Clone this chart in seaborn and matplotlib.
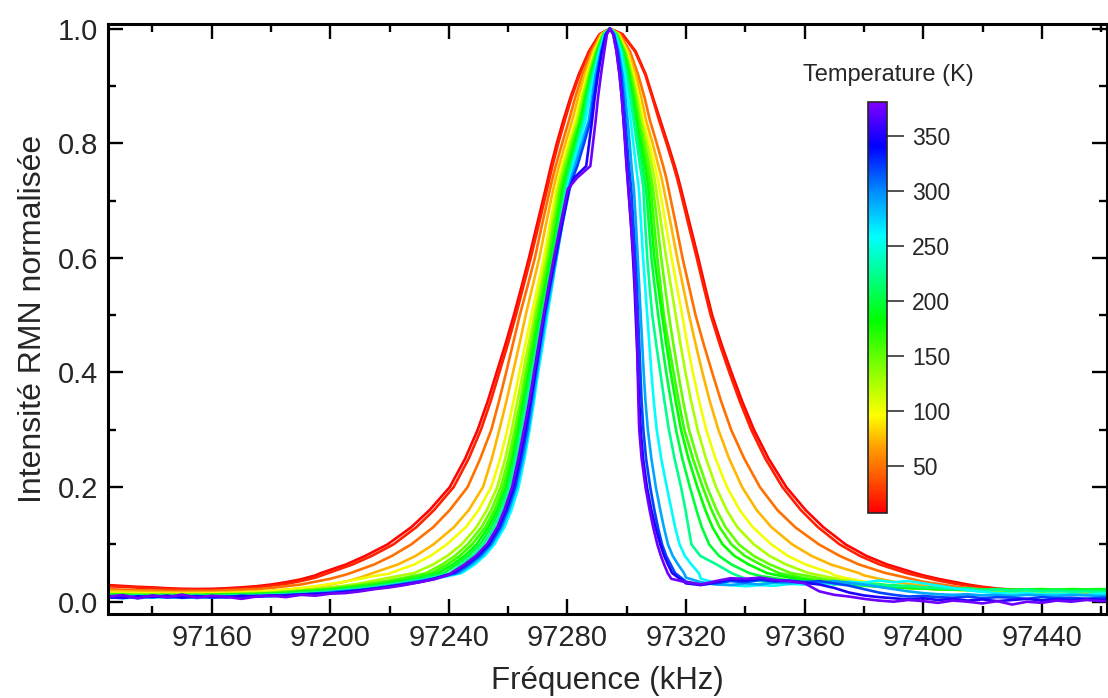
import numpy as np
import pandas as pd
import matplotlib
matplotlib.use("Agg")
import matplotlib.pyplot as plt
import seaborn as sns
from matplotlib.colors import LinearSegmentedColormap, Normalize
from matplotlib.ticker import MultipleLocator, StrMethodFormatter

# --- data ------------------------------------------------------------------
temps = [10, 20, 50, 75, 100, 125, 150, 165, 180, 200, 225, 260, 290, 320, 350, 375]

peak_khz = 97294.3
# intensity levels at which the flank positions were read (peak = 1.0)
levels = [0.99, 0.96, 0.92, 0.88, 0.84, 0.80, 0.76, 0.74, 0.72, 0.66, 0.60, 0.55, 0.50,
          0.45, 0.40, 0.35, 0.30, 0.25, 0.20, 0.16, 0.13, 0.10, 0.08, 0.065, 0.05]

# distance (kHz) below the peak frequency where each curve crosses each level
left_offsets = [
    [3.5, 7.1, 10.5, 13.3, 15.7, 17.9, 19.9, 20.8, 21.7, 24.5, 27.3, 29.8, 32.4, 35.2, 38.2, 41.2, 44.6, 48.8, 54.0, 60.8, 67.0, 75.0, 82.5, 89.0, 97.5],
    [3.4, 7.0, 10.2, 12.9, 15.2, 17.4, 19.4, 20.3, 21.2, 23.9, 26.7, 29.2, 31.7, 34.4, 37.3, 40.2, 43.5, 47.6, 52.7, 59.3, 65.3, 73.0, 80.3, 86.8, 95.0],
    [3.1, 6.2, 9.2, 11.7, 13.8, 16.1, 18.3, 19.3, 20.2, 22.8, 25.3, 27.8, 30.4, 32.7, 35.0, 37.4, 40.0, 43.7, 48.0, 54.0, 59.6, 67.0, 73.5, 79.5, 87.5],
    [2.8, 5.7, 8.5, 10.7, 12.7, 15.0, 17.2, 18.2, 19.1, 21.5, 23.8, 26.1, 28.4, 30.5, 32.7, 34.9, 37.3, 39.8, 42.8, 47.6, 52.6, 59.5, 65.5, 71.5, 80.0],
    [2.6, 5.3, 7.8, 9.8, 11.6, 14.0, 16.2, 17.2, 18.1, 20.2, 22.3, 24.4, 26.5, 28.5, 30.5, 32.5, 34.6, 37.0, 40.0, 44.3, 48.6, 55.0, 60.5, 66.0, 74.0],
    [2.4, 4.9, 7.3, 9.3, 11.0, 13.4, 15.6, 16.6, 17.5, 19.5, 21.5, 23.5, 25.5, 27.4, 29.3, 31.2, 33.1, 35.3, 38.0, 41.5, 45.0, 50.0, 54.8, 59.6, 66.0],
    [2.3, 4.6, 6.9, 8.8, 10.4, 12.8, 15.0, 16.0, 16.9, 18.9, 20.9, 22.8, 24.8, 26.6, 28.4, 30.2, 32.1, 34.2, 36.8, 40.0, 43.3, 48.0, 52.3, 56.6, 62.0],
    [2.2, 4.4, 6.6, 8.4, 10.0, 12.3, 14.5, 15.5, 16.4, 18.4, 20.4, 22.3, 24.2, 26.0, 27.8, 29.6, 31.4, 33.4, 35.9, 38.9, 42.0, 46.5, 50.6, 54.8, 60.0],
    [2.1, 4.3, 6.4, 8.2, 9.8, 11.9, 14.0, 15.0, 15.9, 17.9, 19.9, 21.8, 23.7, 25.5, 27.3, 29.1, 30.9, 32.8, 35.1, 38.0, 41.0, 45.0, 49.0, 53.0, 58.0],
    [2.0, 4.0, 6.1, 7.8, 9.3, 11.4, 13.5, 14.5, 15.4, 17.4, 19.4, 21.3, 23.2, 25.0, 26.8, 28.6, 30.4, 32.3, 34.5, 37.3, 40.0, 43.8, 47.7, 51.6, 56.0],
    [1.9, 3.8, 5.7, 7.4, 8.8, 10.9, 13.0, 14.0, 14.9, 16.9, 18.8, 20.7, 22.6, 24.4, 26.2, 28.0, 29.8, 31.7, 33.8, 36.4, 39.0, 42.6, 46.3, 50.0, 54.0],
    [1.7, 3.5, 5.3, 6.9, 8.2, 10.4, 12.5, 13.5, 14.4, 16.2, 18.0, 19.5, 21.1, 22.6, 24.2, 25.6, 27.1, 28.8, 30.8, 33.2, 35.6, 39.0, 42.3, 45.6, 50.0],
    [1.5, 3.1, 4.8, 6.0, 7.1, 9.5, 11.8, 13.0, 14.0, 16.0, 18.0, 19.8, 21.6, 23.1, 24.6, 26.0, 27.5, 29.3, 31.5, 34.0, 36.4, 39.8, 43.2, 46.7, 51.0],
    [1.4, 2.8, 4.3, 5.5, 6.5, 8.7, 11.0, 12.5, 13.6, 16.0, 18.3, 20.2, 22.0, 23.5, 25.0, 26.5, 28.0, 29.9, 32.0, 34.6, 37.0, 40.4, 44.0, 47.7, 52.0],
    [1.3, 2.7, 4.0, 5.1, 6.0, 7.0, 8.0, 12.0, 13.8, 16.2, 18.5, 20.4, 22.2, 23.7, 25.2, 26.8, 28.5, 30.4, 32.5, 35.1, 37.6, 41.0, 44.8, 48.6, 53.0],
    [1.0, 1.9, 3.0, 4.0, 4.8, 5.7, 6.6, 11.0, 14.2, 16.6, 18.9, 20.7, 22.4, 24.0, 25.6, 27.2, 29.0, 30.9, 33.0, 35.6, 38.0, 41.5, 45.2, 49.0, 53.5],
]

# distance (kHz) above the peak frequency
right_offsets = [
    [4.3, 8.7, 12.1, 14.5, 17.0, 19.5, 21.9, 23.0, 24.0, 26.9, 29.8, 32.1, 34.5, 37.6, 41.0, 44.6, 48.6, 53.5, 59.5, 66.0, 72.0, 79.5, 86.5, 93.5, 103.0],
    [4.2, 8.5, 11.9, 14.3, 16.6, 19.1, 21.5, 22.6, 23.6, 26.4, 29.3, 31.6, 34.0, 37.0, 40.3, 43.8, 47.7, 52.4, 58.2, 64.4, 70.2, 77.5, 84.3, 91.0, 100.0],
    [3.4, 6.8, 9.5, 11.7, 13.5, 15.8, 18.0, 19.0, 19.8, 22.2, 24.5, 26.7, 28.9, 31.6, 34.5, 37.5, 40.9, 45.3, 50.6, 56.5, 62.5, 70.5, 77.5, 84.0, 93.0],
    [3.1, 6.2, 8.7, 10.6, 12.2, 14.4, 16.4, 17.4, 18.2, 20.5, 22.7, 24.7, 26.7, 28.9, 31.2, 33.7, 36.6, 40.2, 44.6, 49.5, 54.5, 61.5, 68.0, 74.5, 84.0],
    [2.8, 5.7, 8.0, 9.7, 11.2, 13.3, 15.2, 16.1, 16.8, 18.8, 20.8, 22.6, 24.4, 26.1, 28.0, 30.1, 32.5, 35.6, 39.5, 43.8, 48.2, 54.5, 60.0, 66.0, 74.5],
    [2.6, 5.3, 7.5, 9.2, 10.6, 12.5, 14.2, 15.0, 15.6, 17.3, 19.0, 20.6, 22.2, 23.8, 25.5, 27.4, 29.6, 32.4, 35.8, 39.4, 43.0, 48.6, 53.8, 59.4, 67.0],
    [2.5, 5.1, 7.1, 8.7, 10.0, 11.7, 13.3, 14.0, 14.6, 16.0, 17.3, 18.6, 19.9, 21.4, 23.0, 24.7, 26.7, 29.5, 32.8, 36.0, 39.0, 43.5, 48.5, 54.0, 61.0],
    [2.4, 4.8, 6.8, 8.2, 9.5, 11.0, 12.5, 13.2, 13.8, 14.9, 16.0, 17.1, 18.2, 19.8, 21.5, 23.2, 25.1, 28.0, 31.3, 34.3, 37.0, 41.0, 45.5, 50.8, 57.0],
    [2.2, 4.5, 6.4, 7.8, 9.0, 10.4, 11.8, 12.5, 13.0, 14.0, 15.0, 16.3, 17.6, 19.0, 20.5, 22.2, 24.0, 26.5, 29.5, 32.2, 34.6, 38.0, 42.0, 46.8, 53.0],
    [2.1, 4.3, 6.0, 7.3, 8.5, 9.8, 11.0, 11.6, 12.2, 13.1, 14.0, 15.1, 16.3, 17.6, 19.0, 20.6, 22.3, 24.4, 27.0, 29.2, 31.0, 33.5, 36.8, 41.0, 47.0],
    [2.0, 4.0, 5.6, 6.9, 8.0, 9.1, 10.2, 10.8, 11.3, 11.9, 12.6, 13.4, 14.3, 15.6, 17.0, 18.4, 19.9, 21.8, 24.0, 25.5, 26.5, 27.5, 30.5, 36.0, 41.0],
    [1.8, 3.6, 5.0, 6.1, 7.0, 7.9, 8.8, 9.3, 9.8, 10.5, 11.2, 11.9, 12.6, 13.3, 14.0, 14.8, 15.8, 17.3, 19.2, 20.8, 22.0, 23.5, 25.3, 27.5, 30.0],
    [1.5, 3.0, 4.3, 5.2, 6.0, 6.7, 7.3, 7.7, 8.1, 8.8, 9.4, 9.9, 10.4, 10.9, 11.4, 12.0, 12.8, 14.0, 15.5, 17.0, 18.2, 19.6, 21.2, 23.0, 25.0],
    [1.3, 2.7, 3.8, 4.5, 5.2, 5.8, 6.4, 6.8, 7.2, 7.9, 8.6, 9.1, 9.5, 9.9, 10.3, 10.7, 11.3, 12.2, 13.6, 15.0, 16.2, 17.6, 19.0, 20.5, 22.0],
    [1.2, 2.3, 3.3, 4.0, 4.6, 5.2, 5.7, 6.0, 6.3, 7.1, 7.8, 8.3, 8.7, 9.1, 9.5, 9.9, 10.4, 11.2, 12.5, 14.0, 15.4, 17.0, 18.3, 19.6, 21.0],
    [1.1, 2.2, 3.2, 4.0, 4.6, 5.1, 5.6, 5.9, 6.2, 7.1, 8.0, 8.5, 9.0, 9.2, 9.4, 9.6, 9.9, 10.7, 12.0, 13.4, 14.6, 16.0, 17.2, 18.3, 19.5],
]

# baseline on the low-frequency side: every 5 kHz starting at 97125 kHz
left_tail_start = 97125
tail_step = 5
left_tails = [
    [0.029, 0.0275, 0.026, 0.025, 0.0235, 0.0225, 0.0222, 0.0225, 0.0235, 0.025, 0.027, 0.030, 0.034, 0.039, 0.046],
    [0.027, 0.026, 0.0245, 0.0235, 0.0225, 0.0215, 0.021, 0.021, 0.022, 0.023, 0.025, 0.028, 0.031, 0.036, 0.042],
    [0.022, 0.021, 0.020, 0.0195, 0.019, 0.0188, 0.0188, 0.019, 0.020, 0.021, 0.022, 0.024, 0.027, 0.030, 0.035, 0.040, 0.047],
    [0.019, 0.018, 0.0175, 0.017, 0.0165, 0.016, 0.016, 0.016, 0.0165, 0.017, 0.018, 0.019, 0.021, 0.023, 0.026, 0.030, 0.035, 0.042],
    [0.016, 0.0155, 0.015, 0.0145, 0.014, 0.014, 0.014, 0.0145, 0.015, 0.016, 0.017, 0.019, 0.021, 0.024, 0.027, 0.031, 0.035, 0.040, 0.045, 0.049],
    [0.014, 0.0135, 0.013, 0.013, 0.0125, 0.0125, 0.0125, 0.013, 0.0135, 0.014, 0.015, 0.016, 0.018, 0.020, 0.022, 0.025, 0.028, 0.032, 0.037, 0.042, 0.047],
    [0.013, 0.0125, 0.012, 0.012, 0.012, 0.012, 0.012, 0.0125, 0.013, 0.0135, 0.014, 0.015, 0.017, 0.019, 0.021, 0.023, 0.026, 0.029, 0.033, 0.037, 0.042, 0.047],
    [0.012, 0.012, 0.0115, 0.0115, 0.0115, 0.0115, 0.012, 0.012, 0.0125, 0.013, 0.0135, 0.0145, 0.016, 0.018, 0.020, 0.022, 0.025, 0.028, 0.031, 0.035, 0.040, 0.045],
    [0.012, 0.0115, 0.011, 0.011, 0.011, 0.011, 0.011, 0.0115, 0.012, 0.0125, 0.013, 0.014, 0.015, 0.017, 0.019, 0.021, 0.023, 0.026, 0.029, 0.033, 0.037, 0.042, 0.048],
    [0.011, 0.012, 0.010, 0.011, 0.0105, 0.0115, 0.010, 0.011, 0.0115, 0.012, 0.0125, 0.013, 0.0145, 0.016, 0.018, 0.020, 0.022, 0.025, 0.028, 0.032, 0.036, 0.041, 0.047],
    [0.010, 0.0085, 0.011, 0.009, 0.0105, 0.0095, 0.011, 0.0095, 0.0105, 0.0115, 0.011, 0.013, 0.0125, 0.015, 0.016, 0.018, 0.021, 0.023, 0.026, 0.030, 0.034, 0.038, 0.043, 0.049],
    [0.008, 0.006, 0.0085, 0.007, 0.009, 0.0065, 0.008, 0.0075, 0.009, 0.008, 0.0095, 0.010, 0.011, 0.012, 0.0135, 0.015, 0.018, 0.020, 0.023, 0.027, 0.031, 0.035, 0.040, 0.045],
    [0.007, 0.009, 0.006, 0.0085, 0.0075, 0.009, 0.0065, 0.0085, 0.008, 0.0095, 0.009, 0.0105, 0.012, 0.013, 0.0145, 0.017, 0.019, 0.021, 0.024, 0.028, 0.032, 0.036, 0.041, 0.047],
    [0.0075, 0.0095, 0.007, 0.010, 0.0075, 0.0085, 0.010, 0.007, 0.0095, 0.0085, 0.0105, 0.0095, 0.0115, 0.013, 0.0125, 0.0155, 0.018, 0.020, 0.023, 0.027, 0.031, 0.035, 0.040, 0.047],
    [0.008, 0.0065, 0.0095, 0.008, 0.0105, 0.007, 0.009, 0.0085, 0.0075, 0.0105, 0.009, 0.011, 0.0105, 0.0125, 0.014, 0.0145, 0.017, 0.020, 0.023, 0.026, 0.030, 0.034, 0.040, 0.048],
    [0.009, 0.0115, 0.006, 0.011, 0.008, 0.0125, 0.007, 0.0105, 0.0085, 0.005, 0.009, 0.0105, 0.008, 0.012, 0.0105, 0.014, 0.015, 0.018, 0.022, 0.025, 0.029, 0.034, 0.039, 0.047],
]

# baseline on the high-frequency side: every 5 kHz, last value at 97465 kHz
right_tail_end = 97465
right_tails = [
    [0.046, 0.040, 0.035, 0.030, 0.026, 0.023, 0.021, 0.0195, 0.018, 0.0175, 0.017, 0.017, 0.0165, 0.0165],
    [0.049, 0.043, 0.037, 0.032, 0.028, 0.025, 0.022, 0.020, 0.019, 0.018, 0.0175, 0.017, 0.017, 0.0165, 0.0165],
    [0.047, 0.041, 0.035, 0.031, 0.027, 0.024, 0.022, 0.020, 0.019, 0.018, 0.0175, 0.017, 0.017, 0.0168, 0.0165, 0.0165],
    [0.046, 0.040, 0.035, 0.031, 0.028, 0.025, 0.023, 0.021, 0.020, 0.019, 0.018, 0.0175, 0.017, 0.017, 0.017, 0.017, 0.017, 0.017],
    [0.046, 0.040, 0.035, 0.031, 0.028, 0.025, 0.023, 0.022, 0.021, 0.020, 0.019, 0.0185, 0.018, 0.018, 0.018, 0.018, 0.018, 0.018, 0.0175, 0.0175],
    [0.046, 0.041, 0.036, 0.032, 0.029, 0.027, 0.025, 0.023, 0.022, 0.021, 0.020, 0.0195, 0.019, 0.019, 0.0185, 0.019, 0.0185, 0.019, 0.0185, 0.019, 0.0185],
    [0.046, 0.041, 0.037, 0.033, 0.030, 0.028, 0.026, 0.024, 0.023, 0.022, 0.021, 0.0205, 0.020, 0.0205, 0.020, 0.021, 0.020, 0.0205, 0.020, 0.021, 0.020, 0.0205],
    [0.046, 0.041, 0.037, 0.034, 0.031, 0.029, 0.027, 0.025, 0.024, 0.023, 0.022, 0.021, 0.0215, 0.020, 0.021, 0.0205, 0.0215, 0.020, 0.021, 0.0205, 0.0215, 0.021, 0.0205],
    [0.047, 0.042, 0.038, 0.035, 0.032, 0.030, 0.028, 0.026, 0.025, 0.024, 0.023, 0.022, 0.0215, 0.022, 0.021, 0.022, 0.0205, 0.0215, 0.022, 0.021, 0.022, 0.0215, 0.022, 0.021],
    [0.045, 0.041, 0.037, 0.035, 0.032, 0.034, 0.030, 0.031, 0.028, 0.029, 0.026, 0.025, 0.024, 0.0225, 0.023, 0.021, 0.022, 0.020, 0.0215, 0.020, 0.021, 0.0195, 0.0205, 0.020, 0.021],
    [0.040, 0.036, 0.033, 0.035, 0.031, 0.034, 0.030, 0.032, 0.029, 0.031, 0.027, 0.028, 0.025, 0.024, 0.022, 0.023, 0.020, 0.021, 0.019, 0.020, 0.018, 0.019, 0.0175, 0.018, 0.017, 0.018],
    [0.040, 0.033, 0.029, 0.027, 0.029, 0.028, 0.031, 0.030, 0.033, 0.031, 0.035, 0.033, 0.037, 0.034, 0.036, 0.032, 0.028, 0.024, 0.020, 0.017, 0.015, 0.014, 0.015, 0.013, 0.014, 0.013, 0.012, 0.014, 0.013],
    [0.042, 0.034, 0.030, 0.029, 0.032, 0.030, 0.034, 0.032, 0.035, 0.033, 0.036, 0.033, 0.030, 0.026, 0.022, 0.018, 0.015, 0.013, 0.012, 0.013, 0.011, 0.012, 0.010, 0.012, 0.011, 0.010, 0.012, 0.011, 0.010, 0.011],
    [0.035, 0.030, 0.032, 0.036, 0.034, 0.038, 0.035, 0.037, 0.034, 0.036, 0.032, 0.028, 0.022, 0.016, 0.012, 0.009, 0.010, 0.008, 0.007, 0.009, 0.006, 0.008, 0.007, 0.005, 0.008, 0.006, 0.007, 0.005, 0.007, 0.006],
    [0.032, 0.029, 0.034, 0.039, 0.037, 0.040, 0.037, 0.036, 0.033, 0.030, 0.024, 0.016, 0.011, 0.008, 0.006, 0.004, 0.006, 0.003, 0.005, 0.002, 0.004, 0.001, 0.003, 0.005, 0.002, 0.004, 0.003, 0.005, 0.003, 0.004],
    [0.040, 0.034, 0.030, 0.036, 0.041, 0.040, 0.042, 0.038, 0.036, 0.032, 0.018, 0.012, 0.009, 0.005, 0.002, 0.000, 0.003, 0.001, -0.002, 0.002, 0.000, -0.003, 0.001, -0.005, 0.000, -0.002, 0.002, 0.000, 0.003, 0.001, 0.002],
]

cbar_ticks = [50, 100, 150, 200, 250, 300, 350]
t_min, t_max = 8, 381

# colour stops of the rainbow palette (temperature in K -> rgb)
stop_temps = [8, 40, 65, 96, 140, 182, 259, 300, 341, 381]
stop_colors = [(1, 0, 0), (1, 0.35, 0), (1, 0.6, 0), (1, 1, 0), (0.5, 1, 0),
               (0, 1, 0), (0, 1, 1), (0, 0.55, 1), (0, 0, 1), (0.5, 0, 1)]

# --- build long table ------------------------------------------------------
rows = []
for i, t in enumerate(temps):
    lo = left_offsets[i]
    ro = right_offsets[i]
    lt = np.array(left_tails[i])
    lx = left_tail_start + tail_step * np.arange(len(lt))
    keep = lx < peak_khz - lo[-1]
    xs = list(lx[keep])
    ys = list(lt[keep])
    xs += [peak_khz - o for o in lo[::-1]]
    ys += levels[::-1]
    xs.append(peak_khz)
    ys.append(1.0)
    xs += [peak_khz + o for o in ro]
    ys += levels
    rt = np.array(right_tails[i])
    rx = right_tail_end - tail_step * np.arange(len(rt))[::-1]
    keep = rx > peak_khz + ro[-1]
    xs += list(rx[keep])
    ys += list(rt[keep])
    rows += [(t, x, y) for x, y in zip(xs, ys)]
df = pd.DataFrame(rows, columns=["T", "freq", "intensity"])

# --- plot ------------------------------------------------------------------
sns.set_style("ticks")
plt.rcParams["font.family"] = ["Liberation Sans", "DejaVu Sans"]

span = t_max - t_min
cmap = LinearSegmentedColormap.from_list(
    "origin_rainbow", [((s - t_min) / span, c) for s, c in zip(stop_temps, stop_colors)])
norm = Normalize(vmin=t_min, vmax=t_max)

fig = plt.figure(figsize=(11.08, 6.98), dpi=100)
ax = fig.add_axes([0.0975, 0.1203, 0.9016, 0.8453])

sns.lineplot(data=df, x="freq", y="intensity", hue="T", palette=cmap, hue_norm=norm,
             estimator=None, sort=False, linewidth=1.9, legend=False, ax=ax)

ax.set_xlim(97125, 97462)
ax.set_ylim(-0.0215, 1.008)
ax.xaxis.set_major_locator(MultipleLocator(40))
ax.xaxis.set_minor_locator(MultipleLocator(20))
ax.yaxis.set_major_locator(MultipleLocator(0.2))
ax.yaxis.set_minor_locator(MultipleLocator(0.1))
ax.xaxis.set_major_formatter(StrMethodFormatter("{x:.0f}"))
ax.yaxis.set_major_formatter(StrMethodFormatter("{x:.1f}"))
ax.tick_params(which="both", direction="in", top=True, right=True, width=1.7, color="black")
ax.tick_params(which="major", length=10.5, labelsize=21, pad=7)
ax.tick_params(which="minor", length=5.5)
for sp in ax.spines.values():
    sp.set_linewidth(2.2)
    sp.set_color("black")

ax.set_xlabel("Fréquence (kHz)", fontsize=22.5, labelpad=10)
ax.set_ylabel("Intensité RMN normalisée", fontsize=23, labelpad=7)

# colour bar for the temperature
cax = fig.add_axes([0.7834, 0.2655, 0.0172, 0.5888])
sm = plt.cm.ScalarMappable(norm=norm, cmap=cmap)
cb = fig.colorbar(sm, cax=cax)
cb.set_ticks(cbar_ticks)
cb.ax.tick_params(labelsize=16.5, length=12, width=1.2, color="#333333", direction="out", pad=6)
cb.outline.set_linewidth(1.2)
fig.text(0.8015, 0.8925, "Temperature (K)", fontsize=17, ha="center", va="center")

fig.savefig("out.png", dpi=100)
